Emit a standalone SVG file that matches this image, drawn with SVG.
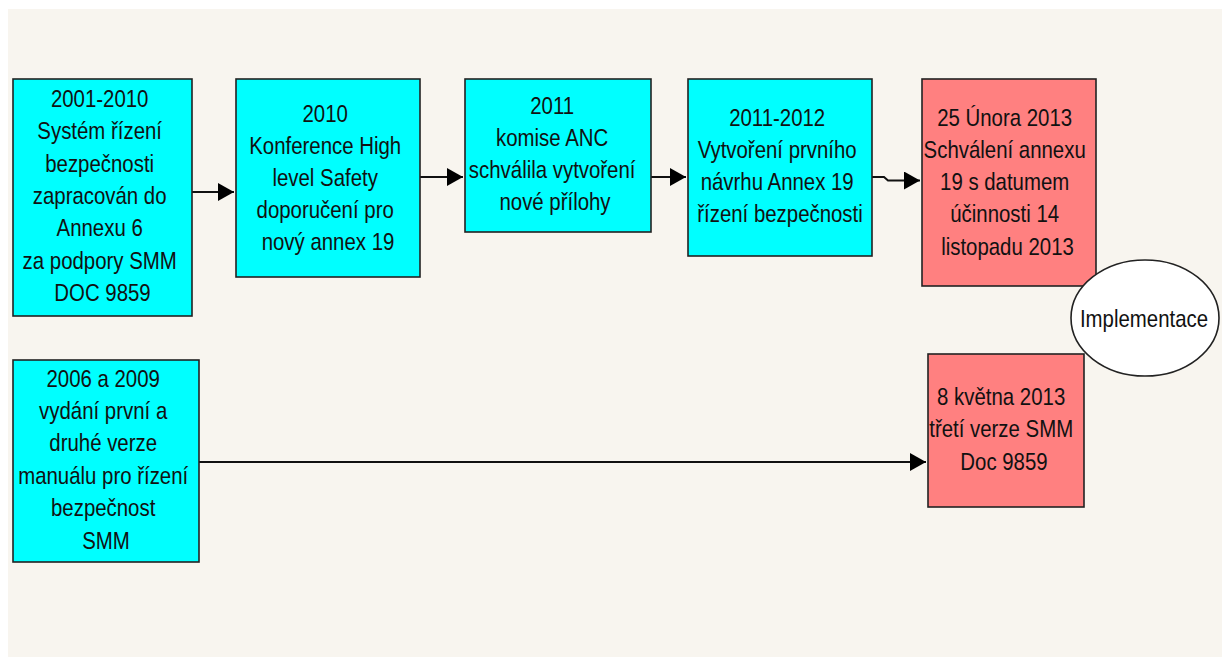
<svg xmlns="http://www.w3.org/2000/svg" width="1222" height="657" viewBox="0 0 1222 657">
<defs>
<style>
.bg{fill:#F8F5EF}
.cy{fill:#00FFFF;stroke:#222;stroke-width:1.6}
.pk{fill:#FF8080;stroke:#222;stroke-width:1.6}
.el{fill:#FFFFFF;stroke:#222;stroke-width:1.6}
.t{font-family:"Liberation Sans",Arial,sans-serif;font-size:24px;fill:#111;text-anchor:middle}
.c{fill:none;stroke:#111;stroke-width:2}
</style>
<marker id="ah" markerUnits="userSpaceOnUse" markerWidth="16" markerHeight="18" refX="16" refY="9" orient="auto">
<path d="M0,0 L16,9 L0,18 Z" fill="#000"/>
</marker>
</defs>
<rect x="0" y="0" width="1222" height="657" fill="#FFFFFF"/>
<rect class="bg" x="8" y="9" width="1214" height="648"/>

<g id="connectors">
<path class="c" d="M192,192 L234,192" marker-end="url(#ah)"/>
<path class="c" d="M420,177 L463,177" marker-end="url(#ah)"/>
<path class="c" d="M651,177 L686,177" marker-end="url(#ah)"/>
<path class="c" d="M872,177 L884,177 L888,180.5 L920,180.5" marker-end="url(#ah)"/>
<path class="c" d="M199,462 L926,462" marker-end="url(#ah)"/>
</g>

<g id="n1">
<rect class="cy" x="13" y="79" width="179" height="237"/>
<g transform="translate(102.5 0) scale(0.85 1)"><text class="t">
<tspan x="0" y="107">2001-2010</tspan>
<tspan x="0" y="139.5">Systém řízení</tspan>
<tspan x="0" y="172">bezpečnosti</tspan>
<tspan x="0" y="204">zapracován do</tspan>
<tspan x="0" y="236.5">Annexu 6</tspan>
<tspan x="0" y="269">za podpory SMM</tspan>
<tspan x="0" y="301">DOC 9859</tspan>
</text></g>
</g>

<g id="n2">
<rect class="cy" x="236" y="79" width="184" height="198"/>
<g transform="translate(328 0) scale(0.85 1)"><text class="t">
<tspan x="0" y="122">2010</tspan>
<tspan x="0" y="154">Konference High</tspan>
<tspan x="0" y="186.5">level Safety</tspan>
<tspan x="0" y="218.5">doporučení pro</tspan>
<tspan x="0" y="250.5">nový annex 19</tspan>
</text></g>
</g>

<g id="n3">
<rect class="cy" x="465" y="79" width="186" height="153"/>
<g transform="translate(555 0) scale(0.85 1)"><text class="t">
<tspan x="0" y="114">2011</tspan>
<tspan x="0" y="146">komise ANC</tspan>
<tspan x="0" y="178">schválila vytvoření</tspan>
<tspan x="0" y="210">nové přílohy</tspan>
</text></g>
</g>

<g id="n4">
<rect class="cy" x="688" y="79" width="184" height="177"/>
<g transform="translate(780 0) scale(0.85 1)"><text class="t">
<tspan x="0" y="126">2011-2012</tspan>
<tspan x="0" y="158">Vytvoření prvního</tspan>
<tspan x="0" y="190">návrhu Annex 19</tspan>
<tspan x="0" y="222.5">řízení bezpečnosti</tspan>
</text></g>
</g>

<g id="n5">
<rect class="pk" x="922" y="79" width="174" height="207"/>
<g transform="translate(1007.5 0) scale(0.85 1)"><text class="t">
<tspan x="0" y="126">25 Února 2013</tspan>
<tspan x="0" y="158">Schválení annexu</tspan>
<tspan x="0" y="190">19 s datumem</tspan>
<tspan x="0" y="222.5">účinnosti 14</tspan>
<tspan x="0" y="255">listopadu 2013</tspan>
</text></g>
</g>

<g id="n7">
<rect class="cy" x="13" y="360" width="186" height="202"/>
<g transform="translate(106 0) scale(0.85 1)"><text class="t">
<tspan x="0" y="387">2006 a 2009</tspan>
<tspan x="0" y="419">vydání první a</tspan>
<tspan x="0" y="451.5">druhé verze</tspan>
<tspan x="0" y="484">manuálu pro řízení</tspan>
<tspan x="0" y="516.5">bezpečnost</tspan>
<tspan x="0" y="549">SMM</tspan>
</text></g>
</g>

<g id="n6">
<rect class="pk" x="928" y="354" width="156" height="153"/>
<g transform="translate(1004 0) scale(0.85 1)"><text class="t">
<tspan x="0" y="405">8 května 2013</tspan>
<tspan x="0" y="437.5">třetí verze SMM</tspan>
<tspan x="0" y="470">Doc 9859</tspan>
</text></g>
</g>

<g id="implementace">
<ellipse class="el" cx="1145" cy="318" rx="74" ry="58"/>
<g transform="translate(1144 0) scale(0.85 1)"><text class="t" x="0" y="327">Implementace</text></g>
</g>
</svg>
